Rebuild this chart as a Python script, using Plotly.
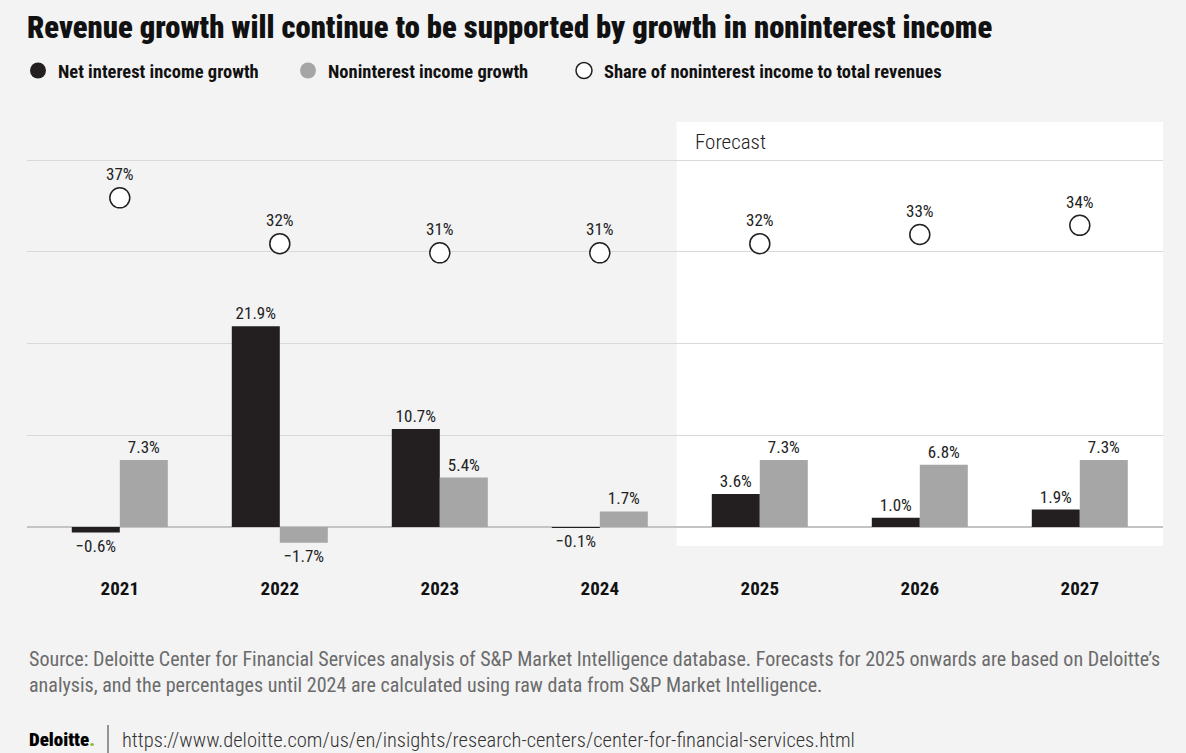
import plotly.graph_objects as go

years = ["2021", "2022", "2023", "2024", "2025", "2026", "2027"]
nii_growth = [-0.6, 21.9, 10.7, -0.1, 3.6, 1.0, 1.9]
nonii_growth = [7.3, -1.7, 5.4, 1.7, 7.3, 6.8, 7.3]
share_nonii = [37, 32, 31, 31, 32, 33, 34]

def fmt(v):
    s = f"{abs(v):.1f}%"
    return ("\u2212" + s) if v < 0 else s

nii_text = [fmt(v) for v in nii_growth]
nonii_text = [fmt(v) for v in nonii_growth]
share_text = [f"{v}%" for v in share_nonii]

BG = "#f3f3f4"
DARK = "#231f20"
GRAY = "#a6a6a6"
FONT = "Roboto Condensed, Roboto, sans-serif"

xi = list(range(len(years)))

W, H = 1186, 753
ML, MR, MT, MB = 27, 23, 122, 178
plot_h = H - MT - MB
plot_w = W - ML - MR
def ypix(p):
    return (H - MB - p) / plot_h
def xpix(p):
    return (p - ML) / plot_w

fig = go.Figure()
fig.add_trace(go.Bar(
    x=xi, y=nii_growth, name="Net interest income growth",
    marker=dict(color=DARK, line=dict(width=0)),
    text=nii_text, textposition="outside", cliponaxis=False,
    textfont=dict(size=17, color="#222", family=FONT),
    showlegend=False, offsetgroup="a",
))
fig.add_trace(go.Bar(
    x=xi, y=nonii_growth, name="Noninterest income growth",
    marker=dict(color=GRAY, line=dict(width=0)),
    text=nonii_text, textposition="outside", cliponaxis=False,
    textfont=dict(size=17, color="#222", family=FONT),
    showlegend=False, offsetgroup="b",
))
fig.add_trace(go.Scatter(
    x=xi, y=share_nonii, yaxis="y2", mode="markers+text",
    name="Share of noninterest income to total revenues",
    marker=dict(symbol="circle", size=20, color="white", line=dict(color=DARK, width=1.5)),
    text=share_text, textposition="top center",
    textfont=dict(size=17, color="#222", family=FONT),
    showlegend=False, cliponaxis=False,
))
# legend entries (one legend each, positioned independently)
fig.add_trace(go.Scatter(x=[None], y=[None], mode="markers", name="Net interest income growth",
                         marker=dict(symbol="circle", size=16, color=DARK), legend="legend"))
fig.add_trace(go.Scatter(x=[None], y=[None], mode="markers", name="Noninterest income growth",
                         marker=dict(symbol="circle", size=16, color=GRAY), legend="legend2"))
fig.add_trace(go.Scatter(x=[None], y=[None], mode="markers", name="Share of noninterest income to total revenues",
                         marker=dict(symbol="circle", size=16, color="white", line=dict(color=DARK, width=1.5)),
                         legend="legend3"))

yr = [-5.23, 44.17]
shift = 1.1

def leg(xp):
    return dict(orientation="h", x=xpix(xp), xanchor="left", y=ypix(71), yanchor="middle",
                font=dict(size=18.5, family=FONT, color="#111", weight="bold"),
                itemsizing="trace", bgcolor="rgba(0,0,0,0)", itemclick=False, itemdoubleclick=False)

fig.update_layout(
    width=W, height=H,
    paper_bgcolor=BG, plot_bgcolor=BG,
    margin=dict(l=ML, r=MR, t=MT, b=MB),
    barmode="group", bargap=0.4, bargroupgap=0,
    font=dict(family=FONT, color="#222"),
    title=dict(text="Revenue growth will continue to be supported by growth in noninterest income",
               x=0, xref="paper", xanchor="left", y=1 - 27 / H, yanchor="middle",
               font=dict(size=30.6, family=FONT, color="#111", weight=900)),
    legend=leg(18), legend2=leg(288), legend3=leg(564),
    xaxis=dict(tickmode="array", tickvals=xi, ticktext=years,
               range=[-0.58, 6.52], showgrid=False, zeroline=False, showline=False,
               ticks="", tickfont=dict(size=19, family=FONT, color="#111", weight="bold")),
    yaxis=dict(range=yr, tickvals=[0, 10, 20, 30, 40], showticklabels=False,
               showgrid=True, gridcolor="#d9d9d9", gridwidth=1,
               zeroline=True, zerolinecolor="#c4c4c4", zerolinewidth=2),
    yaxis2=dict(range=[yr[0] + shift, yr[1] + shift], overlaying="y", visible=False),
    shapes=[
        dict(type="rect", xref="x", yref="y", x0=3.48, x1=6.52, y0=-2.07, y1=yr[1],
             fillcolor="white", line=dict(width=0), layer="below"),
        dict(type="line", xref="paper", yref="paper", x0=xpix(108), x1=xpix(108),
             y0=ypix(725), y1=ypix(753), line=dict(color="#333", width=1)),
    ],
    annotations=[
        dict(text="Forecast", x=3.58, xref="x", xanchor="left", y=ypix(142), yref="paper",
             yanchor="middle", showarrow=False,
             font=dict(size=21, family=FONT, color="#222", weight=300)),
        dict(text="Source: Deloitte Center for Financial Services analysis of S&P Market Intelligence database. Forecasts for 2025 onwards are based on Deloitte\u2019s<br>analysis, and the percentages until 2024 are calculated using raw data from S&P Market Intelligence.",
             x=0, xref="paper", xanchor="left", y=ypix(672), yref="paper", yanchor="middle", showarrow=False,
             align="left", font=dict(size=20.05, family=FONT, color="#6b6b6b", weight=400)),
        dict(text="Deloitte<span style='color:#86bc25'>.</span>",
             x=0, xref="paper", xanchor="left", y=ypix(740), yref="paper", yanchor="middle", showarrow=False,
             font=dict(size=19, family=FONT, color="#000", weight=900)),
        dict(text="https://www.deloitte.com/us/en/insights/research-centers/center-for-financial-services.html",
             x=xpix(120), xref="paper", xanchor="left", y=ypix(740), yref="paper", yanchor="middle", showarrow=False,
             font=dict(size=20.5, family=FONT, color="#333", weight=300)),
    ],
)

fig.write_html("out.html", config={"displayModeBar": False},
               post_script="document.body.style.margin='0';document.body.style.overflow='hidden';")
